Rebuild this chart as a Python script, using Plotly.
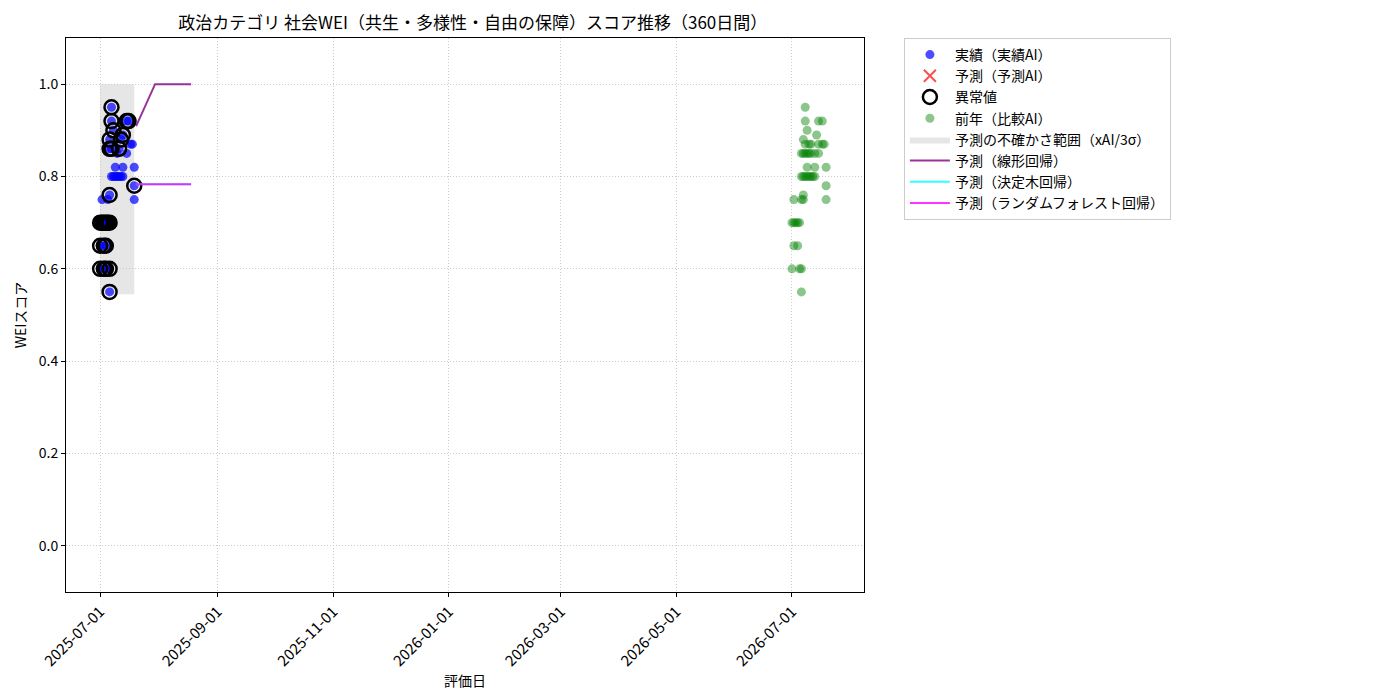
import plotly.graph_objects as go

# 実績（実績AI）
actual_dates = [
    "2025-07-06", "2025-07-01", "2025-07-03", "2025-07-04", "2025-07-06",
    "2025-07-01", "2025-07-03", "2025-07-04",
    "2025-07-01", "2025-07-02", "2025-07-03", "2025-07-04", "2025-07-05", "2025-07-06",
    "2025-07-02", "2025-07-05", "2025-07-19", "2025-07-06", "2025-07-19",
    "2025-07-07", "2025-07-08", "2025-07-09", "2025-07-10", "2025-07-11", "2025-07-12", "2025-07-13",
    "2025-07-09", "2025-07-13", "2025-07-19", "2025-07-15", "2025-07-10",
    "2025-07-06", "2025-07-07", "2025-07-11", "2025-07-17", "2025-07-18",
    "2025-07-06", "2025-07-12", "2025-07-13", "2025-07-08",
    "2025-07-07", "2025-07-15", "2025-07-16", "2025-07-07",
]
actual_values = [
    0.55, 0.60, 0.60, 0.60, 0.60,
    0.65, 0.65, 0.65,
    0.70, 0.70, 0.70, 0.70, 0.70, 0.70,
    0.75, 0.75, 0.75, 0.76, 0.78,
    0.80, 0.80, 0.80, 0.80, 0.80, 0.80, 0.80,
    0.82, 0.82, 0.82, 0.85, 0.85,
    0.86, 0.86, 0.86, 0.87, 0.87,
    0.88, 0.88, 0.89, 0.90,
    0.92, 0.92, 0.92, 0.95,
]

# 異常値
outlier_dates = [
    "2025-07-06", "2025-07-01", "2025-07-03", "2025-07-04", "2025-07-06",
    "2025-07-01", "2025-07-03", "2025-07-04",
    "2025-07-01", "2025-07-02", "2025-07-03", "2025-07-04", "2025-07-05", "2025-07-06",
    "2025-07-06", "2025-07-19",
    "2025-07-06", "2025-07-07", "2025-07-11",
    "2025-07-06", "2025-07-12", "2025-07-13", "2025-07-08",
    "2025-07-07", "2025-07-15", "2025-07-16", "2025-07-07",
]
outlier_values = [
    0.55, 0.60, 0.60, 0.60, 0.60,
    0.65, 0.65, 0.65,
    0.70, 0.70, 0.70, 0.70, 0.70, 0.70,
    0.76, 0.78,
    0.86, 0.86, 0.86,
    0.88, 0.88, 0.89, 0.90,
    0.92, 0.92, 0.92, 0.95,
]

# 前年（比較AI）
prev_dates = [
    "2026-07-06",
    "2026-07-01", "2026-07-05", "2026-07-06",
    "2026-07-02", "2026-07-04",
    "2026-07-01", "2026-07-02", "2026-07-03", "2026-07-04", "2026-07-05",
    "2026-07-02", "2026-07-06", "2026-07-07", "2026-07-19",
    "2026-07-07", "2026-07-19",
    "2026-07-06", "2026-07-07", "2026-07-08", "2026-07-09", "2026-07-10", "2026-07-11", "2026-07-12", "2026-07-13",
    "2026-07-09", "2026-07-13", "2026-07-19",
    "2026-07-06", "2026-07-07", "2026-07-08", "2026-07-09", "2026-07-10", "2026-07-11", "2026-07-13", "2026-07-15",
    "2026-07-08", "2026-07-10", "2026-07-11", "2026-07-15", "2026-07-17", "2026-07-18",
    "2026-07-07", "2026-07-14", "2026-07-09",
    "2026-07-08", "2026-07-15", "2026-07-17", "2026-07-08",
]
prev_values = [
    0.55,
    0.60, 0.60, 0.60,
    0.65, 0.65,
    0.70, 0.70, 0.70, 0.70, 0.70,
    0.75, 0.75, 0.75, 0.75,
    0.76, 0.78,
    0.80, 0.80, 0.80, 0.80, 0.80, 0.80, 0.80, 0.80,
    0.82, 0.82, 0.82,
    0.85, 0.85, 0.85, 0.85, 0.85, 0.85, 0.85, 0.85,
    0.87, 0.87, 0.87, 0.87, 0.87, 0.87,
    0.88, 0.89, 0.90,
    0.92, 0.92, 0.92, 0.95,
]

# 予測の不確かさ範囲
band_dates = ["2025-07-01", "2025-07-19"]
band_lower = [0.545, 0.545]
band_upper = [1.0, 1.0]

# 予測線
pred_dates = ["2025-07-20", "2025-07-30", "2025-08-18"]
pred_linear = [0.909, 1.0, 1.0]
pred_tree = [0.783, 0.783, 0.783]
pred_forest = [0.783, 0.783, 0.783]

x_ticks = ["2025-07-01", "2025-09-01", "2025-11-01", "2026-01-01",
           "2026-03-01", "2026-05-01", "2026-07-01"]
y_ticks = [0.0, 0.2, 0.4, 0.6, 0.8, 1.0]

fig = go.Figure()

# 帯は先に描いて点の下に置く
fig.add_trace(go.Scatter(
    x=band_dates, y=band_lower, mode="lines", line=dict(width=0),
    showlegend=False, hoverinfo="skip"))
fig.add_trace(go.Scatter(
    x=band_dates, y=band_upper, mode="lines", line=dict(width=0),
    fill="tonexty", fillcolor="rgba(200,200,200,0.45)",
    name="予測の不確かさ範囲（xAI/3σ）", legendrank=5))

fig.add_trace(go.Scatter(
    x=actual_dates, y=actual_values, mode="markers",
    marker=dict(color="rgba(0,0,255,0.7)", size=9),
    name="実績（実績AI）", legendrank=1))
fig.add_trace(go.Scatter(
    x=[None], y=[None], mode="markers",
    marker=dict(color="rgba(255,0,0,0.7)", symbol="x-thin", size=12,
                line=dict(color="rgba(255,0,0,0.7)", width=2)),
    name="予測（予測AI）", legendrank=2))
fig.add_trace(go.Scatter(
    x=outlier_dates, y=outlier_values, mode="markers",
    marker=dict(color="black", size=14, symbol="circle-open",
                line=dict(width=2.5)),
    name="異常値", legendrank=3))
fig.add_trace(go.Scatter(
    x=prev_dates, y=prev_values, mode="markers",
    marker=dict(color="rgba(0,128,0,0.45)", size=9),
    name="前年（比較AI）", legendrank=4))

fig.add_trace(go.Scatter(
    x=pred_dates, y=pred_linear, mode="lines",
    line=dict(color="rgba(128,0,128,0.8)", width=2),
    name="予測（線形回帰）", legendrank=6))
fig.add_trace(go.Scatter(
    x=pred_dates, y=pred_tree, mode="lines",
    line=dict(color="rgba(0,255,255,0.8)", width=2),
    name="予測（決定木回帰）", legendrank=7))
fig.add_trace(go.Scatter(
    x=pred_dates, y=pred_forest, mode="lines",
    line=dict(color="rgba(255,0,255,0.8)", width=2),
    name="予測（ランダムフォレスト回帰）", legendrank=8))

font_family = "Noto Sans CJK JP, Noto Sans, sans-serif"

fig.update_layout(
    width=1400, height=700,
    paper_bgcolor="white", plot_bgcolor="white",
    font=dict(family=font_family, size=14, color="black"),
    margin=dict(l=58, r=544, t=30, b=116, autoexpand=False),
    title=dict(text="政治カテゴリ 社会WEI（共生・多様性・自由の保障）スコア推移（360日間）",
               x=0.332, xanchor="center", y=0.979, yanchor="middle",
               font=dict(size=17)),
    legend=dict(x=1.05, y=1.0, xanchor="left", yanchor="top",
                traceorder="normal",
                bordercolor="#cccccc", borderwidth=1, font=dict(size=14),
                tracegroupgap=0, itemwidth=40),
    showlegend=True,
)

fig.update_xaxes(
    range=["2025-06-13", "2026-08-08"], type="date",
    tickvals=x_ticks, ticktext=x_ticks, tickangle=-45,
    showline=True, linecolor="black", linewidth=1, mirror=True,
    ticks="outside", ticklen=4, tickcolor="black",
    showgrid=True, gridcolor="#cccccc", griddash="1px,2px", zeroline=False,
    automargin=False,
    title=dict(text="評価日", standoff=2, font=dict(size=14)), tickfont=dict(size=15))
fig.update_yaxes(
    range=[-0.1, 1.1], tickvals=y_ticks, tickformat=".1f",
    showline=True, linecolor="black", linewidth=1, mirror=True,
    ticks="outside", ticklen=4, tickcolor="black",
    showgrid=True, gridcolor="#cccccc", griddash="1px,2px", zeroline=False,
    automargin=False,
    title=dict(text="WEIスコア", standoff=8, font=dict(size=14)), tickfont=dict(size=14))

fig.write_html("out.html")
